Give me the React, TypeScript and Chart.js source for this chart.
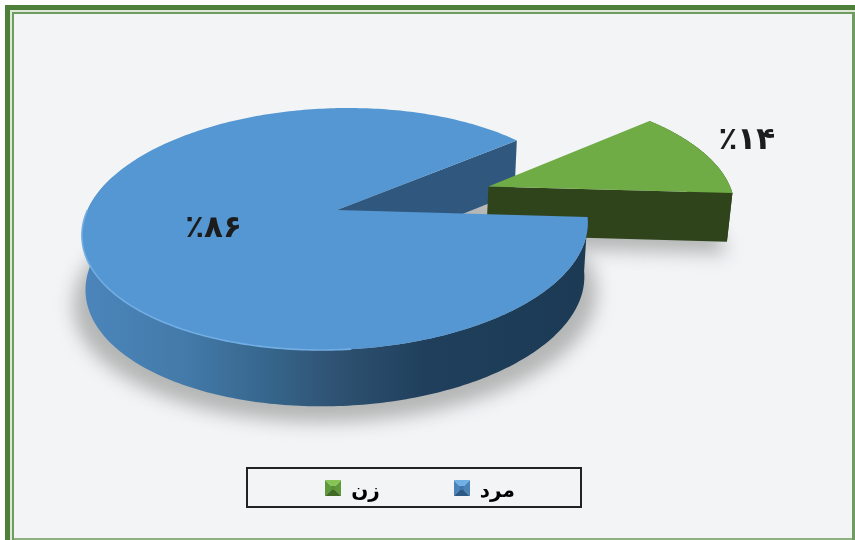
import React, { useEffect, useRef } from "react";
import { Chart, registerables } from "chart.js";

Chart.register(...registerables);

const categories = ["مرد", "زن"];
const shares = [86, 14];
const percentLabels = ["٪۸۶", "٪۱۴"];

const FONT = '"DejaVu Sans", "Noto Sans", sans-serif';
const TOP_COLORS = ["#5597d2", "#6fac46"];
const WALL_COLORS = ["#30587f", "#2f441b"];

// view of the disc: perspective tilt used to project the arcs that the chart computes
const TOP_VIEW = { cx: 337, cy: 210, a: 249.5, b: 118, e: -13, k: 0.157 };
const BASE_VIEW = { cx: 337, cy: 264, a: 246, b: 120, e: -13, k: 0.157 };
const GREEN_BASE_VIEW = { ...BASE_VIEW, cy: 259 };
const DEG = Math.PI / 180;
const SLICE_VIEW_ANGLES = [[3.4 * DEG, 319.5 * DEG], [319.5 * DEG, 363.4 * DEG]];
const LABEL_SPOTS = [{ t: 0.5, r: 0.5 }, { t: 0.45, r: 1.24 }];

type View = typeof TOP_VIEW;
type P = [number, number];

const project = (v: View, x: number, y: number): P => {
  const w = 1 - v.k * y;
  return [v.cx + (v.a * x + v.e * y) / w, v.cy + (v.b * y) / w];
};

const rim = (v: View, from: number, to: number, ox: number, oy: number, n = 160): P[] => {
  const pts: P[] = [];
  for (let i = 0; i <= n; i++) {
    const t = from + ((to - from) * i) / n;
    pts.push(project(v, ox + Math.cos(t), oy + Math.sin(t)));
  }
  return pts;
};

const trace = (ctx: CanvasRenderingContext2D, pts: P[], close = true) => {
  ctx.beginPath();
  pts.forEach((p, i) => (i ? ctx.lineTo(p[0], p[1]) : ctx.moveTo(p[0], p[1])));
  if (close) ctx.closePath();
};

const makeMarker = (top: string, side: string, bottom: string, mid: string) => {
  const c = document.createElement("canvas");
  c.width = 16;
  c.height = 24;
  const g = c.getContext("2d")!;
  const tri = (col: string, pts: number[]) => {
    g.fillStyle = col;
    g.beginPath();
    g.moveTo(pts[0], pts[1]);
    g.lineTo(pts[2], pts[3]);
    g.lineTo(8, 8);
    g.closePath();
    g.fill();
  };
  tri(side, [0, 0, 0, 16]);
  tri(side, [16, 0, 16, 16]);
  tri(top, [0, 0, 16, 0]);
  tri(bottom, [0, 16, 16, 16]);
  g.fillStyle = mid;
  g.fillRect(6, 6, 4, 4);
  return c;
};

const framePlugin = {
  id: "frame",
  beforeDraw(chart: any) {
    const ctx = chart.ctx as CanvasRenderingContext2D;
    ctx.save();
    ctx.fillStyle = "#ffffff";
    ctx.fillRect(0, 0, 855, 540);
    ctx.fillStyle = "#4f803a";
    ctx.fillRect(5, 5, 850, 535);
    ctx.fillStyle = "#dde8d8";
    ctx.fillRect(10, 10, 845, 530);
    ctx.fillStyle = "#6f9c60";
    ctx.fillRect(12, 12, 843, 528);
    ctx.fillStyle = "#f2f4f6";
    ctx.fillRect(14, 14, 838, 524);
    ctx.fillStyle = "#8fb07f";
    ctx.fillRect(14, 538, 838, 2);
    ctx.restore();
  },
};

const pie3dPlugin = {
  id: "pie3d",
  beforeDatasetDraw() {
    return false;
  },
  afterDatasetsDraw(chart: any) {
    const ctx = chart.ctx as CanvasRenderingContext2D;
    const arcs = chart.getDatasetMeta(0).data as any[];
    const parts = arcs.map((arc, i) => {
      const [from, to] = SLICE_VIEW_ANGLES[i];
      const d = arc.options.offset / arc.outerRadius;
      const mid = (from + to) / 2;
      return { arc, from, to, ox: Math.cos(mid) * d, oy: Math.sin(mid) * d };
    });
    const blue = parts[0];
    const green = parts[1];

    ctx.save();
    // legend frame
    ctx.strokeStyle = "#222222";
    ctx.lineWidth = 2;
    ctx.strokeRect(247, 468, 334, 39);

    // soft ground shadows
    ctx.save();
    ctx.filter = "blur(9px)";
    ctx.fillStyle = "#b4b5b5";
    const shadowView = { ...BASE_VIEW, cy: BASE_VIEW.cy + 16, a: BASE_VIEW.a + 12 };
    trace(ctx, rim(shadowView, 0, Math.PI * 2, 0, 0));
    ctx.fill();
    const greenShadow = { ...GREEN_BASE_VIEW, cy: GREEN_BASE_VIEW.cy + 12 };
    trace(ctx, [project(greenShadow, green.ox, green.oy), ...rim(greenShadow, green.from, green.to, green.ox, green.oy)]);
    ctx.fill();
    ctx.restore();

    // inner cut wall of the large slice
    const wallStart = blue.to;
    const a = project(TOP_VIEW, 0, 0);
    const b = project(TOP_VIEW, Math.cos(wallStart), Math.sin(wallStart));
    const c = project(BASE_VIEW, Math.cos(wallStart), Math.sin(wallStart));
    const d = project(BASE_VIEW, 0, 0);
    trace(ctx, [a, b, c, d]);
    ctx.fillStyle = WALL_COLORS[0];
    ctx.fill();

    // exploded slice: walls and top
    const gTop = rim(TOP_VIEW, green.from, green.to, green.ox, green.oy);
    const gBase = rim(GREEN_BASE_VIEW, green.from, green.to, green.ox, green.oy);
    const gApexTop = project(TOP_VIEW, green.ox, green.oy);
    const gApexBase = project(GREEN_BASE_VIEW, green.ox, green.oy);
    ctx.fillStyle = WALL_COLORS[1];
    trace(ctx, [...gTop, ...gBase.slice().reverse()]);
    ctx.fill();
    trace(ctx, [gApexTop, gTop[gTop.length - 1], gBase[gBase.length - 1], gApexBase]);
    ctx.fill();
    ctx.fillStyle = TOP_COLORS[1];
    trace(ctx, [gApexTop, ...gTop]);
    ctx.fill();

    // large slice: outer wall and top
    const bTop = rim(TOP_VIEW, blue.from, blue.to, 0, 0, 320);
    const grad = ctx.createLinearGradient(85, 0, 587, 0);
    grad.addColorStop(0, "#4b85bb");
    grad.addColorStop(0.2, "#437aa9");
    grad.addColorStop(0.38, "#356489");
    grad.addColorStop(0.5, "#2f5272");
    grad.addColorStop(0.68, "#1f3f5c");
    grad.addColorStop(1, "#1c3a54");
    const frontEnd = Math.PI;
    const wTop = rim(TOP_VIEW, blue.from, frontEnd + 0.3, 0, 0, 200);
    const wBase = rim(BASE_VIEW, blue.from, frontEnd + 0.3, 0, 0, 200);
    trace(ctx, [...wTop, ...wBase.slice().reverse()]);
    ctx.fillStyle = grad;
    ctx.fill();

    const apex = project(TOP_VIEW, 0, 0);
    trace(ctx, [apex, ...bTop]);
    ctx.fillStyle = TOP_COLORS[0];
    ctx.fill();

    // bevel highlight along the front rim
    const hl = rim(TOP_VIEW, 0.5 * Math.PI - 0.1, Math.PI, 0, 0, 100);
    trace(ctx, hl, false);
    ctx.strokeStyle = "#72ade3";
    ctx.lineWidth = 1.6;
    ctx.stroke();

    // value labels, placed on the slices
    ctx.fillStyle = "#1c1c1c";
    ctx.font = `bold 31px ${FONT}`;
    ctx.textAlign = "center";
    ctx.textBaseline = "middle";
    ctx.direction = "ltr";
    parts.forEach((p, i) => {
      const t = p.from + (p.to - p.from) * LABEL_SPOTS[i].t;
      const r = LABEL_SPOTS[i].r;
      const [x, y] = project(TOP_VIEW, p.ox + Math.cos(t) * r, p.oy + Math.sin(t) * r);
      ctx.fillText(percentLabels[i], x, y);
    });
    ctx.restore();
  },
};

export default function App() {
  const ref = useRef<HTMLCanvasElement>(null);

  useEffect(() => {
    const markers = [
      makeMarker("#6fb0e6", "#4a83b8", "#2d5a85", "#3f78ac"),
      makeMarker("#86c455", "#5f9a3a", "#3f6b25", "#5a9036"),
    ];
    const chart = new Chart(ref.current!, {
      type: "pie",
      data: {
        labels: categories,
        datasets: [
          {
            data: shares,
            backgroundColor: TOP_COLORS,
            borderWidth: 0,
            offset: [0, 100],
          },
        ],
      },
      options: {
        responsive: false,
        animation: false,
        rotation: 93.4,
        layout: { padding: { right: 15, bottom: 28 } },
        plugins: {
          tooltip: { enabled: false },
          legend: {
            position: "bottom",
            reverse: true,
            labels: {
              padding: 74,
              boxWidth: 16,
              boxHeight: 16,
              usePointStyle: true,
              color: "#1c1c1c",
              font: { family: FONT, size: 20, weight: "bold" },
              generateLabels: () =>
                categories.map((text, i) => ({
                  text,
                  pointStyle: markers[i],
                  fillStyle: TOP_COLORS[i],
                  lineWidth: 0,
                  datasetIndex: 0,
                  index: i,
                })),
            },
          },
        },
      },
      plugins: [framePlugin, pie3dPlugin],
    } as any);
    return () => chart.destroy();
  }, []);

  return (
    <div style={{ position: "fixed", left: 0, top: 0, width: 855, height: 540 }}>
      <canvas ref={ref} width={855} height={540} style={{ display: "block" }} />
    </div>
  );
}
